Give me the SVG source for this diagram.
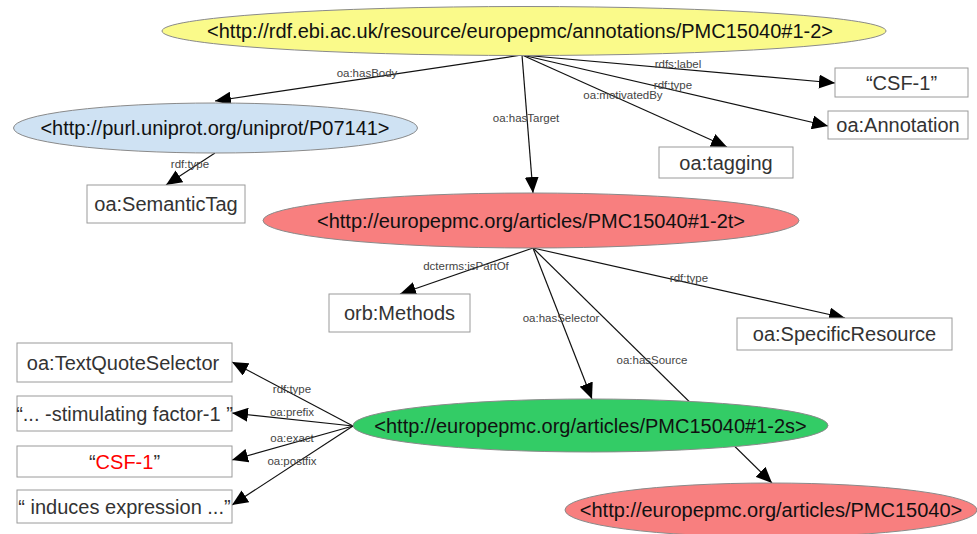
<svg xmlns="http://www.w3.org/2000/svg" width="977" height="534" viewBox="0 0 977 534">
  <defs>
    <marker id="arrow" markerUnits="userSpaceOnUse" markerWidth="17" markerHeight="14" refX="16" refY="7" orient="auto">
      <path d="M0,0 L16,7 L0,14 Z" fill="#000"/>
    </marker>
  </defs>
  <style>
    .edge { stroke: #111; stroke-width: 1.2; fill: none; marker-end: url(#arrow); }
    .elabel { font-family: "Liberation Sans", Arial, sans-serif; font-size: 11.5px; fill: #444; text-anchor: middle; }
    .ntext { font-family: "Liberation Sans", Arial, sans-serif; font-size: 20px; fill: #111; text-anchor: middle; }
    .btext { font-family: "Liberation Sans", Arial, sans-serif; font-size: 20px; fill: #333; text-anchor: middle; }
    .box { fill: #fff; stroke: #9a9a9a; stroke-width: 1; }
    .ell { stroke: #8a8a8a; stroke-width: 1; }
  </style>
  <rect width="977" height="534" fill="#fff"/>

  <!-- connectors -->
  <g id="connectors">
    <line class="edge" x1="522" y1="55" x2="215" y2="101"/>
    <line class="edge" x1="522" y1="55" x2="533" y2="193"/>
    <line class="edge" x1="522" y1="55" x2="835" y2="83"/>
    <line class="edge" x1="522" y1="55" x2="828" y2="126"/>
    <line class="edge" x1="522" y1="55" x2="727" y2="147"/>
    <line class="edge" x1="215" y1="153" x2="166" y2="185"/>
    <line class="edge" x1="533" y1="248" x2="400" y2="294"/>
    <line class="edge" x1="533" y1="248" x2="845" y2="318"/>
    <line class="edge" x1="533" y1="248" x2="592" y2="399"/>
    <line class="edge" x1="533" y1="248" x2="772" y2="483"/>
    <line class="edge" x1="353" y1="426" x2="232" y2="362"/>
    <line class="edge" x1="353" y1="426" x2="232" y2="413"/>
    <line class="edge" x1="353" y1="426" x2="232" y2="460"/>
    <line class="edge" x1="353" y1="426" x2="232" y2="505"/>

    <text class="elabel" x="367" y="77">oa:hasBody</text>
    <text class="elabel" x="526" y="122">oa:hasTarget</text>
    <text class="elabel" x="678" y="68">rdfs:label</text>
    <text class="elabel" x="673" y="89">rdf:type</text>
    <text class="elabel" x="623" y="99">oa:motivatedBy</text>
    <text class="elabel" x="190" y="168">rdf:type</text>
    <text class="elabel" x="466" y="270">dcterms:isPartOf</text>
    <text class="elabel" x="689" y="282">rdf:type</text>
    <text class="elabel" x="561" y="322">oa:hasSelector</text>
    <text class="elabel" x="652" y="364">oa:hasSource</text>
    <text class="elabel" x="292" y="393">rdf:type</text>
    <text class="elabel" x="292" y="416">oa:prefix</text>
    <text class="elabel" x="292" y="442">oa:exact</text>
    <text class="elabel" x="292" y="465">oa:postfix</text>
  </g>

  <!-- annotation -->
  <g id="annotation">
    <ellipse class="ell" cx="524" cy="31" rx="362" ry="24.5" fill="#fafa8a"/>
    <text class="ntext" x="520" y="38">&lt;http://rdf.ebi.ac.uk/resource/europepmc/annotations/PMC15040#1-2&gt;</text>
  </g>

  <g id="body">
    <ellipse class="ell" cx="215.5" cy="128" rx="202" ry="25" fill="#cfe2f3"/>
    <text class="ntext" x="215" y="135">&lt;http://purl.uniprot.org/uniprot/P07141&gt;</text>
  </g>

  <g id="label-literal">
    <rect class="box" x="835" y="68" width="133" height="29"/>
    <text class="btext" x="901.5" y="89.5">“CSF-1”</text>
  </g>

  <g id="annotation-type">
    <rect class="box" x="828" y="111" width="140" height="28"/>
    <text class="btext" x="898" y="132">oa:Annotation</text>
  </g>

  <g id="motivation">
    <rect class="box" x="659" y="147" width="134" height="31"/>
    <text class="btext" x="726" y="169.5">oa:tagging</text>
  </g>

  <g id="semantic-tag">
    <rect class="box" x="87" y="185" width="158" height="38"/>
    <text class="btext" x="166" y="211">oa:SemanticTag</text>
  </g>

  <g id="target">
    <ellipse class="ell" cx="531" cy="220.5" rx="268" ry="27.5" fill="#f87f7f"/>
    <text class="ntext" x="531" y="227.5">&lt;http://europepmc.org/articles/PMC15040#1-2t&gt;</text>
  </g>

  <g id="methods">
    <rect class="box" x="329" y="294" width="141" height="38"/>
    <text class="btext" x="399.5" y="320">orb:Methods</text>
  </g>

  <g id="specific-resource">
    <rect class="box" x="737" y="318" width="215" height="32"/>
    <text class="btext" x="844.5" y="341">oa:SpecificResource</text>
  </g>

  <g id="selector">
    <ellipse class="ell" cx="590.5" cy="425.5" rx="237.5" ry="26.5" fill="#33cc66"/>
    <text class="ntext" x="590.5" y="432.5">&lt;http://europepmc.org/articles/PMC15040#1-2s&gt;</text>
  </g>

  <g id="source">
    <ellipse class="ell" cx="771" cy="510" rx="206" ry="27" fill="#f87f7f"/>
    <text class="ntext" x="771" y="517">&lt;http://europepmc.org/articles/PMC15040&gt;</text>
  </g>

  <g id="selector-type">
    <rect class="box" x="17" y="343" width="215" height="39"/>
    <text class="btext" x="123" y="370">oa:TextQuoteSelector</text>
  </g>

  <g id="prefix">
    <rect class="box" x="17" y="396" width="215" height="35"/>
    <text class="btext" x="124.5" y="420.5">“... -stimulating factor-1 ”</text>
  </g>

  <g id="exact">
    <rect class="box" x="17" y="446" width="215" height="31"/>
    <text class="btext" x="124.5" y="468.5">“<tspan fill="#ff0000">CSF-1</tspan>”</text>
  </g>

  <g id="postfix">
    <rect class="box" x="17" y="490" width="215" height="33"/>
    <text class="btext" x="124.5" y="513.5">“ induces expression ...”</text>
  </g>
</svg>
